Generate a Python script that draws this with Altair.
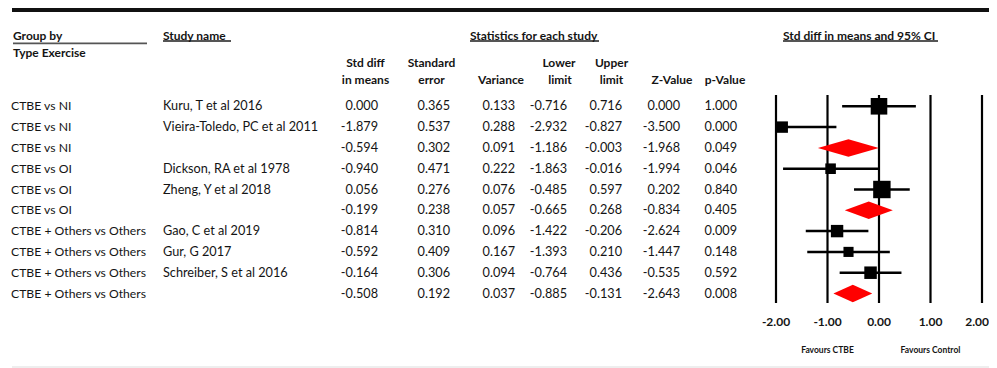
import altair as alt
import pandas as pd

# ---------------- data ----------------
groups = ["CTBE vs NI", "CTBE vs NI", "CTBE vs NI",
          "CTBE vs OI", "CTBE vs OI", "CTBE vs OI",
          "CTBE + Others vs Others", "CTBE + Others vs Others",
          "CTBE + Others vs Others", "CTBE + Others vs Others"]
studies = ["Kuru, T et al 2016", "Vieira-Toledo, PC et al 2011", "",
           "Dickson, RA et al 1978", "Zheng, Y et al 2018", "",
           "Gao, C et al 2019", "Gur, G 2017", "Schreiber, S et al 2016", ""]
is_summary = [False, False, True, False, False, True, False, False, False, True]
std_diff = [0.000, -1.879, -0.594, -0.940, 0.056, -0.199, -0.814, -0.592, -0.164, -0.508]
std_err = [0.365, 0.537, 0.302, 0.471, 0.276, 0.238, 0.310, 0.409, 0.306, 0.192]
variance = [0.133, 0.288, 0.091, 0.222, 0.076, 0.057, 0.096, 0.167, 0.094, 0.037]
lower = [-0.716, -2.932, -1.186, -1.863, -0.485, -0.665, -1.422, -1.393, -0.764, -0.885]
upper = [0.716, -0.827, -0.003, -0.016, 0.597, 0.268, -0.206, 0.210, 0.436, -0.131]
z_value = [0.000, -3.500, -1.968, -1.994, 0.202, -0.834, -2.624, -1.447, -0.535, -2.643]
p_value = [1.000, 0.000, 0.049, 0.046, 0.840, 0.405, 0.009, 0.148, 0.592, 0.008]

tick_values = [-2, -1, 0, 1, 2]
tick_labels = ["-2.00", "-1.00", "0.00", "1.00", "2.00"]
favours_text = ["Favours CTBE", "Favours Control"]
favours_at = [-1, 1]

# ---------------- tables built from the arrays ----------------
df = pd.DataFrame({
    "group": groups, "study": studies, "summary": is_summary,
    "smd": std_diff, "se": std_err, "var": variance,
    "lower": lower, "upper": upper, "z": z_value, "p": p_value,
})
df["row"] = range(len(df))
for c in ["smd", "se", "var", "lower", "upper", "z", "p"]:
    df[c + "_s"] = df[c].map(lambda v: f"{v:.3f}")
df["w"] = 1.0 / df["var"]
stud = df[~df["summary"]].copy()
stud["share"] = stud["w"] / stud.groupby("group")["w"].transform("sum")

summ = df[df["summary"]]
H = 0.42  # half height of diamonds in row units
dia_rows = []
for _, r in summ.iterrows():
    dia_rows.append({"row": r["row"], "x": r["lower"], "yt": r["row"], "yb": r["row"]})
    dia_rows.append({"row": r["row"], "x": r["smd"], "yt": r["row"] - H, "yb": r["row"] + H})
    dia_rows.append({"row": r["row"], "x": r["upper"], "yt": r["row"], "yb": r["row"]})
dia = pd.DataFrame(dia_rows)
ticks = pd.DataFrame({"t": tick_values, "label": tick_labels})
fav = pd.DataFrame({"t": favours_at, "label": favours_text})

# ---------------- styling ----------------
FONT = "Lato"
TXT = "#141414"
FS = 12.7
HFS = 12
xs = alt.Scale(domain=[-2, 2], range=[768, 974], nice=False, zero=False)
ys = alt.Scale(domain=[0, 9], range=[98.3, 285.5], nice=False, zero=False)
X = lambda f: alt.X(f, type="quantitative", scale=xs, axis=None)
Y = lambda f: alt.Y(f, type="quantitative", scale=ys, axis=None)


def label(text, x, y, align="left", bold=True, size=HFS, color=TXT):
    return alt.Chart(alt.Data(values=[{}])).mark_text(
        text=text, align=align, baseline="middle", font=FONT, fontSize=size,
        fontWeight="bold" if bold else "normal", color=color
    ).encode(x=alt.value(x), y=alt.value(y))


def hline(x1, x2, y, width, color):
    return alt.Chart(alt.Data(values=[{}])).mark_rule(
        strokeWidth=width, color=color
    ).encode(x=alt.value(x1), x2=alt.value(x2), y=alt.value(y))


layers = []

# decoration lines
layers.append(hline(4, 981, 2, 4, "#111111"))
layers.append(hline(5, 139, 35.3, 1.8, "#555555"))
layers.append(hline(155, 223, 33, 1.8, "#555555"))
layers.append(hline(462, 591, 33, 1.8, "#555555"))
layers.append(hline(775, 930, 33, 1.8, "#555555"))
layers.append(hline(4, 981, 359, 1, "#dddddd"))

# headers
layers += [
    label("Group by", 5, 27.7),
    label("Type Exercise", 5, 44.7),
    label("Study name", 155, 27.7),
    label("Statistics for each study", 462, 27.5),
    label("Std diff in means and 95% CI", 775, 27.5),
    label("Std diff", 357.5, 54.5, "center"),
    label("in means", 357.5, 71.5, "center"),
    label("Standard", 423.5, 54.5, "center"),
    label("error", 423.5, 71.5, "center"),
    label("Variance", 493, 72, "center"),
    label("Lower", 551, 55, "center"),
    label("limit", 552, 72, "center"),
    label("Upper", 603.5, 55, "center"),
    label("limit", 603.5, 72, "center"),
    label("Z-Value", 664, 72, "center"),
    label("p-Value", 717, 72, "center"),
]

base = alt.Chart(df)
# table columns
cols = [("group", 3, "left", 12.2), ("study", 155, "left", FS), ("smd_s", 370, "right", FS),
        ("se_s", 442, "right", FS), ("var_s", 507, "right", FS), ("lower_s", 559, "right", FS),
        ("upper_s", 614, "right", FS), ("z_s", 672, "right", FS), ("p_s", 729, "right", FS)]
for field, xpos, al, fsz in cols:
    layers.append(base.mark_text(align=al, baseline="middle", font=FONT, fontSize=fsz,
                                 color=TXT).encode(
        x=alt.value(xpos), y=Y("row"), text=alt.Text(field, type="nominal")))

# forest plot
layers.append(alt.Chart(ticks).mark_rule(strokeWidth=2.2, color="#000000").encode(
    x=X("t"), y=alt.value(87), y2=alt.value(295)))
layers.append(alt.Chart(stud).transform_calculate(
    lo="max(datum.lower, -2)", hi="min(datum.upper, 2)"
).mark_rule(strokeWidth=2.5, color="#000000").encode(
    x=X("lo"), x2=alt.X2("hi"), y=Y("row")))
layers.append(alt.Chart(stud).transform_calculate(
    area="pow(7 + 14 * datum.share, 2)"
).mark_square(filled=True, opacity=1, color="#000000").encode(
    x=X("smd"), y=Y("row"), size=alt.Size("area:Q", scale=None, legend=None)))
layers.append(alt.Chart(dia).mark_area(color="#ff0000", orient="vertical").encode(
    x=X("x"), y=Y("yt"), y2=alt.Y2("yb"), detail="row:N"))
layers.append(alt.Chart(ticks).transform_filter("datum.t < 2").mark_text(
    baseline="middle", font=FONT, fontSize=12, fontWeight="bold", color=TXT).encode(
    x=X("t"), y=alt.value(314), text="label:N"))
layers.append(alt.Chart(ticks).transform_filter("datum.t >= 2").mark_text(
    align="right", dx=7, baseline="middle", font=FONT, fontSize=12,
    fontWeight="bold", color=TXT).encode(
    x=X("t"), y=alt.value(314), text="label:N"))
layers.append(alt.Chart(fav).mark_text(baseline="middle", font=FONT, fontSize=8.5,
                                       fontWeight="bold", color=TXT).encode(
    x=X("t"), y=alt.value(342), text="label:N"))

chart = alt.layer(*layers).properties(
    width=981, height=360,
    autosize=alt.AutoSizeParams(type="none"),
    padding=0,
).configure_view(stroke=None)

chart.save("out.html", embed_options={"renderer": "svg", "actions": False})
